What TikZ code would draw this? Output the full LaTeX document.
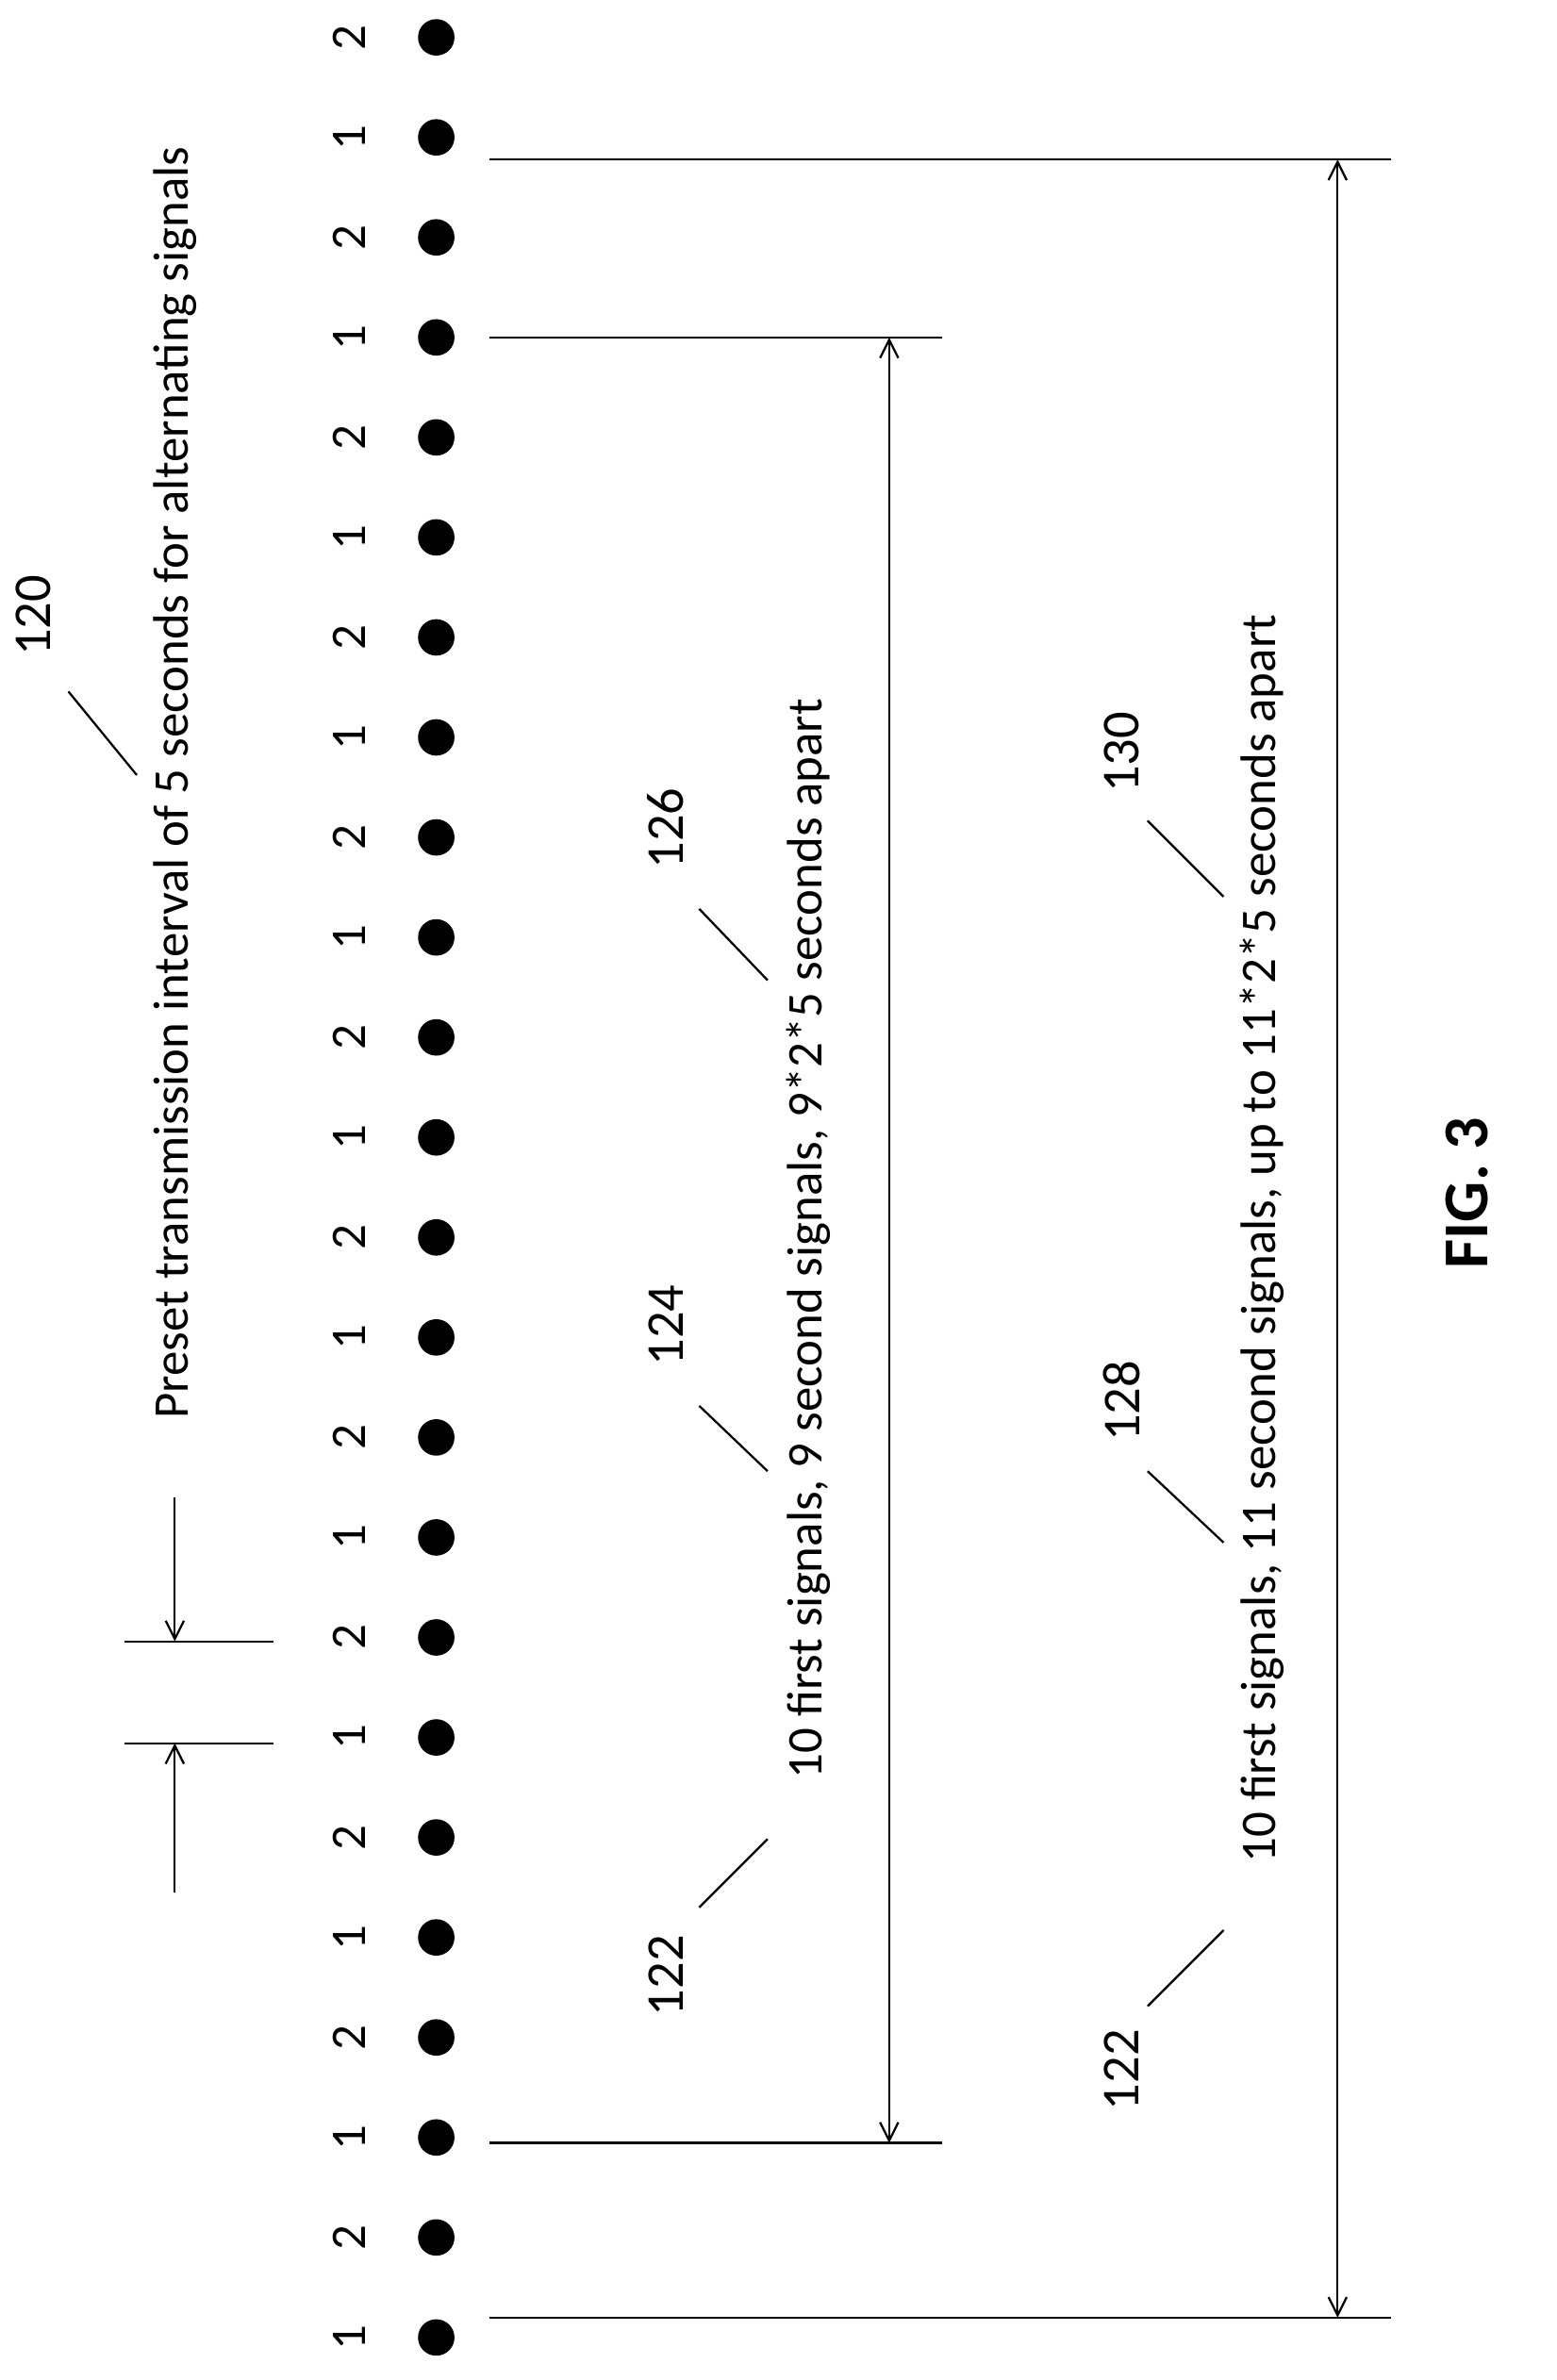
\documentclass[tikz,border=0pt]{standalone}
\usepackage{fontspec}
\setmainfont{Carlito}
\usetikzlibrary{arrows.meta}
\usetikzlibrary{calc}

\begin{document}
\begin{tikzpicture}[x=0.5pt, y=-0.5pt, >={Straight Barb[length=6pt,width=6pt]},
        line width=0.7pt,
        every node/.style={font=\fontsize{16.4}{19}\selectfont},
        txt/.style={rotate=90, inner sep=0pt},
        ref/.style={rotate=90, inner sep=0pt, font=\fontsize{17.5}{20}\selectfont},
        dot/.style={circle, fill=black, minimum size=12pt, inner sep=0pt}]
    \useasboundingbox (0,0) rectangle (1024,1566);

    % signals
    \foreach \i in {0,...,23} {
        \pgfmathsetmacro{\yy}{1538-\i*65.8}
        \pgfmathtruncatemacro{\lab}{mod(\i,2)+1}
        \node[dot] (d\i) at (287,\yy) {};
        \node[txt] (n\i) at (230,\yy) {\lab};
    }

    % interval marker
    \coordinate (ia) at (82,1147);
    \coordinate (ib) at (180,1147);
    \coordinate (ic) at (82,1080);
    \coordinate (id) at (180,1080);
    \draw (ia) -- (ib);
    \draw (ic) -- (id);
    \coordinate (ea) at (115,1245);
    \coordinate (eb) at (115,985);
    \draw[->] (ea) -- (115,1147);
    \draw[->] (eb) -- (115,1080);
    \node[txt] (t120) at (115,515) {Preset transmission interval of 5 seconds for alternating signals};
    \node[ref] (l120) at (22,405) {120};
    \draw (45,455) -- (90,510);

    % first span
    \draw (322,1410) -- (620,1410);
    \draw (322,222) -- (620,222);
    \draw[<->] (585,1410) -- (585,222);
    \node[txt] (t1) at (532,815) {10 first signals, 9 second signals, 9*2*5 seconds apart};
    \node[ref] (l122a) at (438,1300) {122};
    \draw (460,1255) -- (505,1210);
    \node[ref] (l124) at (438,872) {124};
    \draw (460,925) -- (505,968);
    \node[ref] (l126) at (438,545) {126};
    \draw (460,598) -- (505,645);

    % second span
    \draw (322,1525) -- (915,1525);
    \draw (322,105) -- (915,105);
    \draw[<->] (880,1525) -- (880,105);
    \node[txt] (t2) at (830,815) {10 first signals, 11 second signals, up to 11*2*5 seconds apart};
    \node[ref] (l122b) at (738,1362) {122};
    \draw (755,1320) -- (805,1270);
    \node[ref] (l128) at (738,922) {128};
    \draw (755,968) -- (805,1015);
    \node[ref] (l130) at (738,495) {130};
    \draw (755,540) -- (805,590);

    \node[txt, font=\fontsize{21}{24}\selectfont\bfseries] (fig) at (965,785) {FIG. 3};
\end{tikzpicture}
\end{document}
